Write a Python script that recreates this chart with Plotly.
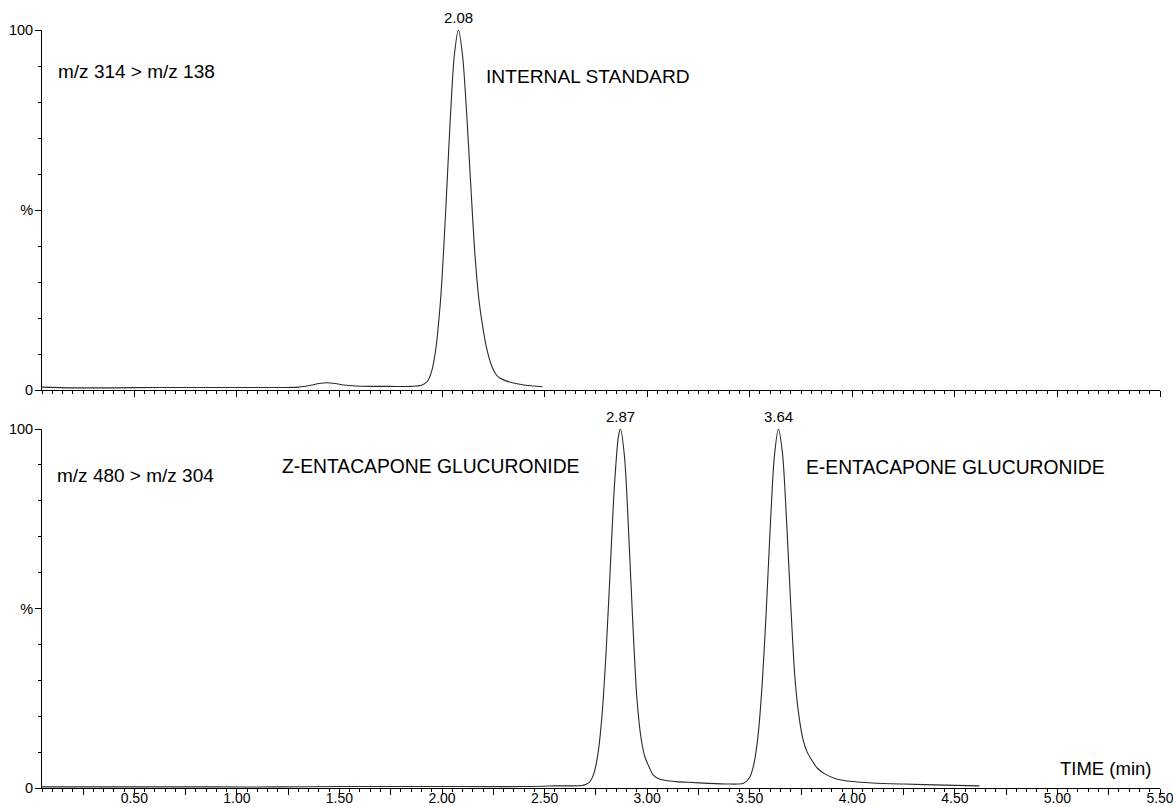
import plotly.graph_objects as go

# ---------------- data ----------------
# Trace 1: m/z 314 > m/z 138 (internal standard), time (min) vs relative intensity (%)
is_time = [0.05, 0.2, 0.4, 0.6, 0.8, 1.0, 1.2, 1.3, 1.36, 1.40, 1.44, 1.48, 1.52, 1.58,
           1.65, 1.75, 1.85, 1.90, 1.93, 1.95, 1.97, 1.99, 2.00, 2.02, 2.04, 2.06, 2.08,
           2.10, 2.12, 2.14, 2.16, 2.18, 2.20, 2.22, 2.24, 2.26, 2.28, 2.32, 2.36, 2.40,
           2.45, 2.49]
is_intensity = [0.8, 0.6, 0.6, 0.7, 0.7, 0.7, 0.7, 0.8, 1.3, 1.8, 2.0, 1.8, 1.4, 1.1,
                1.0, 1.0, 1.0, 1.3, 2.5, 5.3, 11.5, 23, 31, 52, 75, 93, 100,
                93, 77, 57, 38, 25, 17, 11, 7, 4.6, 3.4, 2.4, 1.8, 1.4,
                1.1, 0.9]

# Trace 2: m/z 480 > m/z 304 (Z- and E-entacapone glucuronide)
gl_time = [0.05, 0.3, 0.6, 0.9, 1.2, 1.5, 1.8, 2.1, 2.4, 2.5, 2.55, 2.62, 2.68, 2.70,
           2.72, 2.74, 2.76, 2.78, 2.80, 2.82, 2.84, 2.86, 2.87, 2.89, 2.91, 2.93, 2.95,
           2.97, 2.99, 3.01, 3.03, 3.06, 3.10, 3.15, 3.20, 3.30, 3.40, 3.44, 3.47, 3.50,
           3.52, 3.54, 3.56, 3.58, 3.60, 3.62, 3.64, 3.66, 3.68, 3.70, 3.72, 3.74, 3.76,
           3.78, 3.80, 3.83, 3.87, 3.92, 4.00, 4.10, 4.25, 4.45, 4.62]
gl_intensity = [0.3, 0.3, 0.3, 0.3, 0.3, 0.4, 0.4, 0.4, 0.4, 0.5, 0.6, 0.6, 0.7, 1.0,
                1.7, 4.0, 9.5, 20.3, 38, 61, 83.7, 98, 100, 92, 71, 46, 25,
                14, 8.5, 5.8, 3.6, 2.5, 2.0, 1.7, 1.6, 1.3, 1.1, 1.1, 1.3, 3.0,
                6.6, 14.3, 28.3, 48.7, 72.6, 92.3, 100, 93, 74, 51, 31, 20, 13.5,
                10, 8, 5.5, 3.8, 2.6, 1.8, 1.4, 1.1, 0.8, 0.6]

# peak apex labels
is_peak = [2.08]
gl_peaks = [2.87, 3.64]

# tick labels
x_tick_values = [0.5, 1.0, 1.5, 2.0, 2.5, 3.0, 3.5, 4.0, 4.5, 5.0, 5.5]
x_tick_labels = ["0.50", "1.00", "1.50", "2.00", "2.50", "3.00", "3.50", "4.00",
                 "4.50", "5.00", "5.50"]
y_tick_values = [0, 50, 100]
y_tick_labels = ["0", "%", "100"]

# ---------------- figure ----------------
W, H = 1173, 807
FONT = "Liberation Sans, Arial, sans-serif"
LINE = "#2a2a2a"

def px_x(p):
    return p / W

def px_y(p):
    return 1 - p / H

x_dom = [px_x(42), px_x(1160)]
top_dom = [px_y(390), px_y(30)]
bot_dom = [px_y(788), px_y(429)]

# major ticks every 0.25 min; labels only at 0.5 steps
major_vals = []
major_text = []
for i in range(1, 23):
    v = round(i * 0.25, 2)
    major_vals.append(v)
    if v in x_tick_values:
        major_text.append(x_tick_labels[x_tick_values.index(v)])
    else:
        major_text.append("")

fig = go.Figure()
fig.add_trace(go.Scatter(x=is_time, y=is_intensity, mode="lines",
                         line=dict(color=LINE, width=1.1, shape="spline", smoothing=0.8),
                         xaxis="x", yaxis="y", showlegend=False, hoverinfo="skip"))
fig.add_trace(go.Scatter(x=gl_time, y=gl_intensity, mode="lines",
                         line=dict(color=LINE, width=1.1, shape="spline", smoothing=0.8),
                         xaxis="x2", yaxis="y2", showlegend=False, hoverinfo="skip"))

xcommon = dict(range=[0.05, 5.5], domain=x_dom, showgrid=False, zeroline=False,
               showline=True, linecolor="black", linewidth=1,
               ticks="outside", ticklen=6, tickwidth=1, tickcolor="black",
               tickmode="array", tickvals=major_vals, ticktext=major_text,
               minor=dict(dtick=0.05, tick0=0, ticks="outside", ticklen=3,
                          tickcolor="black", tickwidth=1),
               tickfont=dict(family=FONT, size=14, color="black"),
               ticklabeloverflow="allow", ticklabelstandoff=-9,
               automargin=False, fixedrange=True)
ycommon = dict(range=[0, 100], showgrid=False, zeroline=False,
               showline=True, linecolor="black", linewidth=1,
               ticks="outside", ticklen=6, tickwidth=1, tickcolor="black",
               tickmode="array", tickvals=y_tick_values, ticktext=y_tick_labels,
               minor=dict(dtick=10, tick0=0, ticks="outside", ticklen=3,
                          tickcolor="black", tickwidth=1),
               tickfont=dict(family=FONT, size=14.5, color="black"),
               ticklabelstandoff=-1,
               automargin=False, fixedrange=True)

fig.update_layout(
    width=W, height=H,
    margin=dict(l=0, r=0, t=0, b=0),
    paper_bgcolor="white", plot_bgcolor="white",
    xaxis=dict(xcommon, anchor="y", showticklabels=False),
    yaxis=dict(ycommon, domain=top_dom, anchor="x"),
    xaxis2=dict(xcommon, anchor="y2", showticklabels=True),
    yaxis2=dict(ycommon, domain=bot_dom, anchor="x2"),
    font=dict(family=FONT, color="black"),
)

ann = []
for p in is_peak:
    ann.append(dict(x=p, y=100, xref="x", yref="y", text=f"{p:.2f}", showarrow=False,
                    yanchor="bottom", yshift=2, font=dict(size=15)))
for p in gl_peaks:
    ann.append(dict(x=p, y=100, xref="x2", yref="y2", text=f"{p:.2f}", showarrow=False,
                    yanchor="bottom", yshift=2, font=dict(size=15)))

texts = [
    ("m/z 314 > m/z 138", 56, 72, "left", 19),
    ("INTERNAL STANDARD", 484, 76, "left", 19.2),
    ("m/z 480 > m/z 304", 55, 475, "left", 19),
    ("Z-ENTACAPONE GLUCURONIDE", 280, 466, "left", 19.3),
    ("E-ENTACAPONE GLUCURONIDE", 804, 467, "left", 19.3),
    ("TIME (min)", 1153, 768, "right", 18.5),
]
for t, x, y, xa, s in texts:
    ann.append(dict(x=px_x(x), y=px_y(y), xref="paper", yref="paper", text=t,
                    showarrow=False, xanchor=xa, yanchor="middle",
                    font=dict(size=s, family=FONT, color="black")))
fig.update_layout(annotations=ann)

fig.write_html("out.html", config={"displayModeBar": False})
